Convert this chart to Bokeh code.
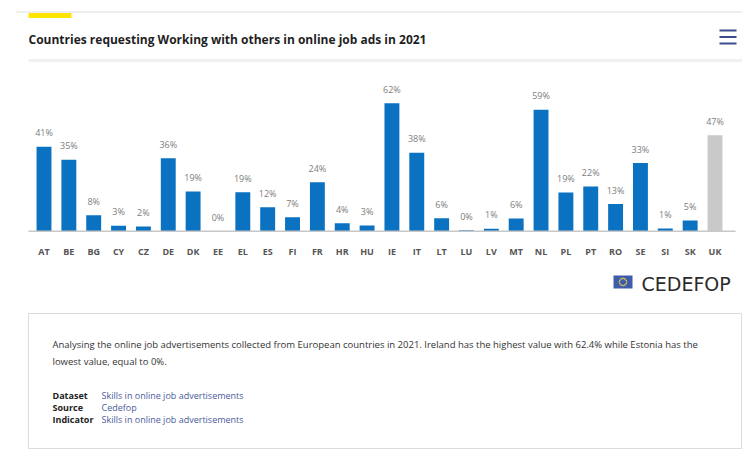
import math
from bokeh.plotting import figure
from bokeh.models import Range1d, FactorRange, ColumnDataSource
from bokeh.core.properties import value
from bokeh.embed import file_html
from bokeh.resources import INLINE

# ---- data ----
countries = ["AT", "BE", "BG", "CY", "CZ", "DE", "DK", "EE", "EL", "ES", "FI", "FR", "HR", "HU",
             "IE", "IT", "LT", "LU", "LV", "MT", "NL", "PL", "PT", "RO", "SE", "SI", "SK", "UK"]
shares = [41.2, 34.8, 7.8, 2.6, 2.3, 35.6, 19.4, 0.0, 19.0, 11.7, 6.8, 23.9, 3.9, 2.8,
          62.4, 38.2, 6.3, 0.4, 1.2, 6.2, 59.2, 18.9, 21.8, 13.2, 33.2, 1.3, 5.2, 46.8]
highlight_grey = ["UK"]

title_text = "Countries requesting Working with others in online job ads in 2021"
desc_lines = [
    "Analysing the online job advertisements collected from European countries in 2021. Ireland has the highest value with 62.4% while Estonia has the",
    "lowest value, equal to 0%.",
]
meta_keys = ["Dataset", "Source", "Indicator"]
meta_vals = ["Skills in online job advertisements", "Cedefop", "Skills in online job advertisements"]

BLUE = "#0a72c0"
GREY = "#c9c9c9"
FONT = "Open Sans"

labels = [f"{round(v)}%" for v in shares]
colors = [GREY if c in highlight_grey else BLUE for c in countries]
src = ColumnDataSource(dict(x=countries, top=shares, label=labels, color=colors))

W, H = 742, 457
PAD = 0.6066         # factor units of padding on each side
FRAME_L, FRAME_R = 16, W
n = len(countries)
unit = (FRAME_R - FRAME_L) / (n + 2 * PAD)


def sx(page_x):
    """page-pixel x -> synthetic categorical coordinate"""
    return (page_x - FRAME_L) / unit - PAD


def sxs(lst):
    return [sx(v) for v in lst]


p = figure(width=W, height=H,
           x_range=FactorRange(factors=countries, range_padding=PAD, range_padding_units="absolute"),
           y_range=Range1d(-110.4, 112.5),
           output_backend="svg", toolbar_location=None,
           x_axis_location=None, y_axis_location=None,
           min_border_left=FRAME_L, min_border_right=W - FRAME_R, min_border_top=0, min_border_bottom=0,
           outline_line_color=None, background_fill_color="white", border_fill_color="white")
p.xgrid.grid_line_color = None
p.ygrid.grid_line_color = None

# page-pixel y range (top-down)
p.extra_y_ranges = {"py": Range1d(H, 0)}
PY = dict(y_range_name="py")

# card top border
p.segment(x0=sxs([10]), y0=[11.5], x1=sxs([742]), y1=[11.5], line_color="#e8e8e8", line_width=1.5, **PY)
# yellow accent
p.quad(left=sxs([28]), right=sxs([71]), top=[12.5], bottom=[17.5], fill_color="#ffe500", line_color=None, **PY)
# title
p.text(x=sxs([28]), y=[38.5], text=[title_text], text_font=value(FONT), text_font_style="bold",
       text_font_size="12px", text_color="#1f1f1f", text_baseline="middle", **PY)
# hamburger menu
p.segment(x0=sxs([719] * 3), y0=[30, 36.5, 43], x1=sxs([736] * 3), y1=[30, 36.5, 43],
          line_color="#3c4c8e", line_width=2.2, **PY)
# separator band
p.quad(left=sxs([28]), right=sxs([742]), top=[58.5], bottom=[61.5], fill_color="#f1f1f1", line_color=None, **PY)

# bars
p.vbar(x="x", top="top", bottom=0, width=0.6, fill_color="color", line_color=None, source=src)
# baseline
p.segment(x0=sxs([28]), y0=[0], x1=sxs([735]), y1=[0], line_color="#c8c8c8", line_width=1.5)
# value labels
p.text(x="x", y="top", text="label", source=src, text_font=value(FONT), text_font_size="9px",
       text_color="#7d7d7d", text_align="center", text_baseline="middle", y_offset=-14)
# country labels
p.text(x=countries, y=[250.5] * n, text=countries, text_font=value(FONT),
       text_font_style="bold", text_font_size="9px", text_color="#555555",
       text_align="center", text_baseline="middle", **PY)

# logo: EU flag + wordmark
p.quad(left=sxs([613]), right=sxs([632]), top=[275], bottom=[288], fill_color="#3f5bab", line_color=None, **PY)
star_x = sxs([622.5 + 3.6 * math.cos(2 * math.pi * k / 12) for k in range(12)])
star_y = [281.5 + 3.6 * math.sin(2 * math.pi * k / 12) for k in range(12)]
p.scatter(x=star_x, y=star_y, size=1.6, marker="circle", fill_color="#f4dd3a", line_color=None, **PY)
p.text(x=sxs([641]), y=[283], text=["CEDEFOP"], text_font=value("DejaVu Sans"), text_font_size="19px",
       text_color="#2b2b2b", text_baseline="middle", **PY)

# info box
p.quad(left=sxs([28]), right=sxs([741]), top=[313], bottom=[448], fill_color="white",
       line_color="#dcdcdc", line_width=1, **PY)
p.text(x=sxs([52, 52]), y=[344, 361], text=desc_lines, text_font=value(FONT), text_font_size="9.5px",
       text_color="#333333", text_baseline="middle", **PY)
p.text(x=sxs([52, 52, 52]), y=[395, 407, 419], text=meta_keys, text_font=value(FONT), text_font_style="bold",
       text_font_size="9px", text_color="#222222", text_baseline="middle", **PY)
p.text(x=sxs([101, 101, 101]), y=[395, 407, 419], text=meta_vals, text_font=value(FONT),
       text_font_size="9px", text_color="#4b5a9c", text_baseline="middle", **PY)

open("out.html", "w").write(file_html(p, INLINE))
